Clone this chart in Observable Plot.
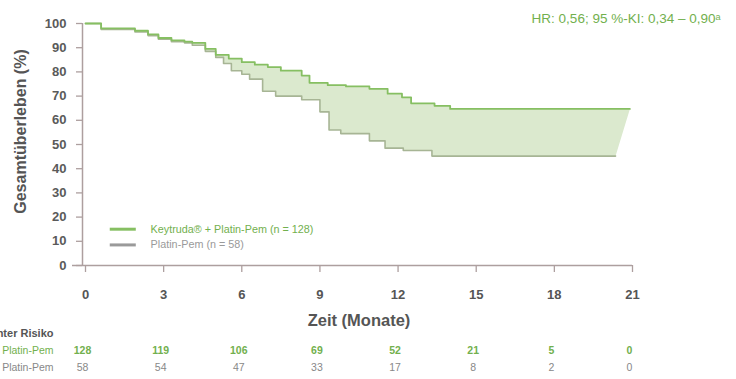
<!DOCTYPE html>
<html>
<head>
<meta charset="utf-8">
<script src="https://cdn.jsdelivr.net/npm/d3@7"></script>
<script src="https://cdn.jsdelivr.net/npm/@observablehq/plot@0.6"></script>
<style>
  html, body { margin: 0; padding: 0; background: #fff; }
  #chart svg { display: block; }
</style>
</head>
<body>
<div id="chart"></div>
<script>
// ---- Data ----
const keyMonths  = [0, 0.6, 1.9, 2.4, 2.8, 3.3, 3.8, 4.1, 4.6, 5.0, 5.5, 6.0, 6.5, 7.0, 7.5, 8.3, 8.6, 9.3, 10.0, 10.9, 11.6, 12.15, 12.5, 13.4, 14.0, 20.9];
const keyValues  = [100, 98, 97, 95.5, 94, 93, 92.5, 92, 89.5, 87, 85.5, 84, 83, 82, 80.5, 78.5, 75.5, 74.5, 74, 73, 71, 69.5, 67, 66, 64.7, 64.7];
const ctrlMonths = [0, 0.6, 1.9, 2.4, 2.8, 3.3, 3.8, 4.1, 4.6, 5.0, 5.3, 5.6, 6.0, 6.3, 6.8, 7.3, 8.3, 9.0, 9.35, 9.8, 10.9, 11.5, 12.2, 13.3, 20.35];
const ctrlValues = [100, 97.5, 96.5, 95, 93.5, 92.5, 92, 91, 88.5, 86, 83.5, 80.5, 79, 77, 72, 70, 68.5, 63.5, 56, 54.5, 51.5, 48.5, 47.5, 45.2, 45.2];

const xTicks = [0, 3, 6, 9, 12, 15, 18, 21];
const yTicks = [0, 10, 20, 30, 40, 50, 60, 70, 80, 90, 100];
const riskKey  = [128, 119, 106, 69, 52, 21, 5, 0];
const riskCtrl = [58, 54, 47, 33, 17, 8, 2, 0];

const seriesNames = ["Keytruda® + Platin-Pem (n = 128)", "Platin-Pem (n = 58)"];
const riskLabels = ["Keytruda® + Platin-Pem", "Platin-Pem"];
const hrText = "HR: 0,56; 95 %-KI: 0,34 – 0,90ᵃ";

// ---- Build tables ----
const key = keyMonths.map((m, i) => ({month: m, value: keyValues[i]}));
const ctrl = ctrlMonths.map((m, i) => ({month: m, value: ctrlValues[i]}));

function stepPoints(arr) {
  const pts = [];
  arr.forEach((d, i) => {
    if (i > 0) pts.push({month: d.month, value: arr[i - 1].value});
    pts.push({month: d.month, value: d.value});
  });
  return pts;
}
const band = stepPoints(key).concat(stepPoints(ctrl).reverse());

const risk1 = xTicks.map((t, i) => ({month: t, n: String(riskKey[i])}));
const risk2 = xTicks.map((t, i) => ({month: t, n: String(riskCtrl[i])}));

const green = "#86bf62";
const greenText = "#72b04e";
const ctrlColor = "#a7b595";
const fillColor = "#dbe9ce";
const axisColor = "#ad9f9f";
const font = "'Liberation Sans Narrow', 'Liberation Sans', Arial, sans-serif";

const legend = [
  {y: 15, label: seriesNames[0], color: green, text: greenText},
  {y: 8.5, label: seriesNames[1], color: "#9a9a9a", text: "#9a9a9a"}
];

const chart = Plot.plot({
  width: 736,
  height: 379,
  marginLeft: 85,
  marginRight: 104,
  marginTop: 23,
  marginBottom: 114,
  style: {fontFamily: font, background: "#fff", overflow: "visible"},
  x: {domain: [0, 21]},
  y: {domain: [0, 100]},
  marks: [
    // band between curves
    Plot.line(band, {x: "month", y: "value", curve: "linear-closed", fill: fillColor, stroke: "none"}),
    Plot.line(ctrl, {x: "month", y: "value", curve: "step-after", stroke: ctrlColor, strokeWidth: 1.6}),
    Plot.line(key, {x: "month", y: "value", curve: "step-after", stroke: green, strokeWidth: 1.8}),
    // axis lines
    Plot.ruleY([0], {x1: 0, x2: 21, stroke: axisColor, strokeWidth: 1.5, insetLeft: -13}),
    Plot.ruleX([0], {y1: 0, y2: 100, dx: -3, stroke: axisColor, strokeWidth: 1.5}),
    Plot.axisY({ticks: yTicks, tickSize: 6, tickPadding: 10, dx: -3, stroke: axisColor, strokeWidth: 1.3,
      fontSize: 13, fontWeight: "bold", fill: "#5a5a5a", label: null}),
    Plot.axisX({ticks: xTicks, tickSize: 7, tickPadding: 17, stroke: axisColor, strokeWidth: 1.3,
      fontSize: 13, fontWeight: "bold", fill: "#555", label: null}),
    // axis titles
    Plot.text(["Gesamtüberleben (%)"], {frameAnchor: "left", textAnchor: "middle", rotate: -90, dx: -65, dy: -13,
      fontSize: 16, fontWeight: "bold", fill: "#555", letterSpacing: 0.4}),
    Plot.text(["Zeit (Monate)"], {frameAnchor: "bottom", dy: 60, fontSize: 16.5, fontWeight: "bold", fill: "#555",
      letterSpacing: 0.6}),
    // HR annotation
    Plot.text([hrText], {frameAnchor: "top-right", dx: 88, dy: -10, textAnchor: "end", fontSize: 13.5, fill: greenText,
      letterSpacing: 0.4}),
    // legend
    Plot.ruleY(legend, {y: "y", x1: 0.95, x2: 1.95, stroke: "color", strokeWidth: 3}),
    Plot.text(legend, {x: 2.5, y: "y", text: "label", fill: "text", textAnchor: "start", fontSize: 10.8}),
    // at-risk table
    Plot.text(["Unter Risiko"], {frameAnchor: "bottom-left", dx: -32, dy: 71, textAnchor: "end", fontSize: 11, fontWeight: "bold", fill: "#555"}),
    Plot.text([riskLabels[0]], {frameAnchor: "bottom-left", dx: -32, dy: 88, textAnchor: "end", fontSize: 10.5, fill: greenText}),
    Plot.text([riskLabels[1]], {frameAnchor: "bottom-left", dx: -32, dy: 105, textAnchor: "end", fontSize: 10.5, fill: "#888"}),
    Plot.text(risk1, {x: "month", text: "n", frameAnchor: "bottom", dx: -3, dy: 88, fontSize: 10.5, fontWeight: "bold", fill: greenText}),
    Plot.text(risk2, {x: "month", text: "n", frameAnchor: "bottom", dx: -3, dy: 105, fontSize: 10.5, fill: "#888"})
  ]
});
document.getElementById("chart").appendChild(chart);
</script>
</body>
</html>
